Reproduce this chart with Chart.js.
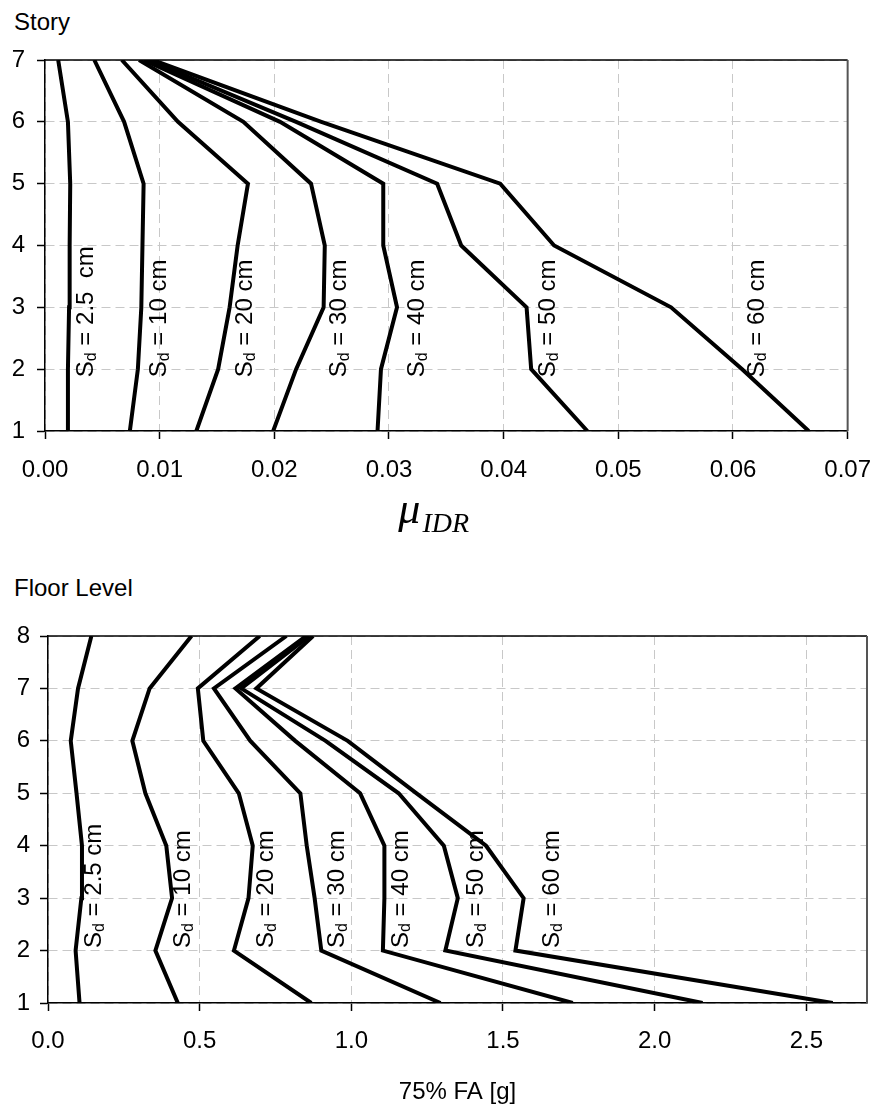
<!DOCTYPE html>
<html>
<head>
<meta charset="utf-8">
<script src="https://cdn.jsdelivr.net/npm/chart.js@4.4.1/dist/chart.umd.min.js"></script>
<style>
  body { margin: 0; background: #fff; width: 888px; height: 1110px; position: relative; overflow: hidden; font-family: 'Liberation Sans', Arial, sans-serif; }
  .ttl { position: absolute; left: 14px; font-size: 24px; line-height: 24px; color: #000; }
  canvas { position: absolute; left: 0; }
</style>
</head>
<body>
<div class="ttl" style="top:10px">Story</div>
<div class="ttl" style="top:576px">Floor Level</div>
<canvas id="idrChart" width="888" height="540" style="top:0"></canvas>
<canvas id="faChart" width="888" height="570" style="top:540px"></canvas>
<script>
// story / floor levels (y axis)
const stories = [1, 2, 3, 4, 5, 6, 7];
const floors = [1, 2, 3, 4, 5, 6, 7, 8];

// mean interstory drift ratio per story, one array per spectral displacement
const idr2_5 = [0.0020, 0.0020, 0.0021, 0.00215, 0.0022, 0.0020, 0.00115];
const idr10 = [0.0074, 0.0081, 0.0084, 0.0085, 0.0086, 0.0069, 0.0043];
const idr20 = [0.0132, 0.0151, 0.0161, 0.0168, 0.0177, 0.0116, 0.0067];
const idr30 = [0.0199, 0.0219, 0.0243, 0.0244, 0.0232, 0.0173, 0.0082];
const idr40 = [0.0290, 0.0293, 0.0307, 0.0295, 0.0295, 0.0205, 0.0086];
const idr50 = [0.0473, 0.0424, 0.0420, 0.0363, 0.0342, 0.0219, 0.0090];
const idr60 = [0.0666, 0.0608, 0.0546, 0.0444, 0.0397, 0.0241, 0.0094];

// 75% floor acceleration [g] per floor level
const fa2_5 = [0.104, 0.091, 0.110, 0.112, 0.094, 0.075, 0.099, 0.143];
const fa10 = [0.428, 0.354, 0.409, 0.390, 0.321, 0.278, 0.335, 0.473];
const fa20 = [0.868, 0.613, 0.661, 0.675, 0.629, 0.512, 0.494, 0.698];
const fa30 = [1.294, 0.901, 0.879, 0.853, 0.832, 0.667, 0.547, 0.786];
const fa40 = [1.730, 1.104, 1.109, 1.109, 1.029, 0.815, 0.618, 0.851];
const fa50 = [2.158, 1.310, 1.351, 1.305, 1.156, 0.915, 0.637, 0.862];
const fa60 = [2.587, 1.541, 1.568, 1.444, 1.215, 0.988, 0.687, 0.874];

// curve labels ("S" + subscript "d" + rest), anchored in data units
const idrLabelText = [' = 2.5  cm', ' = 10 cm', ' = 20 cm', ' = 30 cm', ' = 40 cm', ' = 50 cm', ' = 60 cm'];
const idrLabelX = [0.0036, 0.0100, 0.0175, 0.0257, 0.0325, 0.0439, 0.0621];
const idrLabelY = 1.87;
const faLabelText = [' = 2.5 cm', ' = 10 cm', ' = 20 cm', ' = 30 cm', ' = 40 cm', ' = 50 cm', ' = 60 cm'];
const faLabelX = [0.154, 0.447, 0.720, 0.955, 1.164, 1.412, 1.664];
const faLabelY = 2.05;

const FONT = "'Liberation Sans', Arial, sans-serif";
const SERIF = "'Liberation Serif', 'Times New Roman', serif";

function makeSets(series, levels) {
    return series.map(vals => ({
        data: vals.map((v, i) => ({ x: v, y: levels[i] })),
        borderColor: '#000',
        borderWidth: 4,
        pointRadius: 0,
        tension: 0,
        fill: false
    }));
}

function sdLabels(xs, yStart, rests) {
    return {
        id: 'sdLabels',
        afterDatasetsDraw(chart) {
            const ctx = chart.ctx;
            const sx = chart.scales.x, sy = chart.scales.y;
            ctx.save();
            ctx.fillStyle = '#000';
            ctx.textBaseline = 'middle';
            ctx.textAlign = 'left';
            xs.forEach((xv, i) => {
                ctx.save();
                ctx.translate(sx.getPixelForValue(xv), sy.getPixelForValue(yStart));
                ctx.rotate(-Math.PI / 2);
                ctx.font = '24px ' + FONT;
                ctx.fillText('S', 0, 0);
                let w = ctx.measureText('S').width;
                ctx.font = '16px ' + FONT;
                ctx.fillText('d', w, 5);
                w += ctx.measureText('d').width;
                ctx.font = '24px ' + FONT;
                ctx.fillText(rests[i], w, 0);
                ctx.restore();
            });
            ctx.restore();
        }
    };
}

// top and right edges of the plot area
const frame = {
    id: 'frame',
    beforeDatasetsDraw(chart) {
        const { left, right, top, bottom } = chart.chartArea;
        const ctx = chart.ctx;
        ctx.save();
        ctx.strokeStyle = '#000';
        ctx.lineWidth = 1.5;
        ctx.beginPath();
        ctx.moveTo(left, top);
        ctx.lineTo(right, top);
        ctx.stroke();
        ctx.strokeStyle = '#555';
        ctx.lineWidth = 2;
        ctx.beginPath();
        ctx.moveTo(right, top);
        ctx.lineTo(right, bottom);
        ctx.stroke();
        ctx.restore();
    }
};

// x axis title mu_IDR with subscript
const muTitle = {
    id: 'muTitle',
    afterDraw(chart) {
        const ctx = chart.ctx;
        const ca = chart.chartArea;
        const cx = (ca.left + ca.right) / 2;
        ctx.save();
        ctx.fillStyle = '#000';
        ctx.textBaseline = 'alphabetic';
        ctx.textAlign = 'left';
        ctx.font = 'italic 44px ' + SERIF;
        const x0 = cx - 48;
        ctx.fillText('\u03BC', x0, 523);
        const w = ctx.measureText('\u03BC').width;
        ctx.font = 'italic 28px ' + SERIF;
        ctx.fillText('IDR', x0 + w + 2, 532);
        ctx.restore();
    }
};

function axisStyle() {
    return {
        border: { display: true, color: '#000', width: 1.5, dash: [9, 5] },
        grid: {
            color: '#c8c8c8',
            lineWidth: 1,
            tickColor: '#000',
            tickLength: 8,
            tickWidth: 1.5,
            tickBorderDash: []
        }
    };
}

Chart.defaults.font.family = FONT;
Chart.defaults.color = '#000';

new Chart(document.getElementById('idrChart'), {
    type: 'line',
    data: { datasets: makeSets([idr2_5, idr10, idr20, idr30, idr40, idr50, idr60], stories) },
    options: {
        responsive: false,
        animation: false,
        devicePixelRatio: 1,
        layout: { padding: { top: 60, right: 29, left: 0, bottom: 0 } },
        plugins: { legend: { display: false }, tooltip: { enabled: false } },
        scales: {
            x: {
                type: 'linear', min: 0, max: 0.07,
                ...axisStyle(),
                ticks: { stepSize: 0.01, font: { size: 24 }, padding: 17, callback: v => v.toFixed(2) },
                afterFit: s => { s.height = 109; }
            },
            y: {
                type: 'linear', min: 1, max: 7,
                ...axisStyle(),
                ticks: { stepSize: 1, font: { size: 24 }, padding: 12 },
                afterFit: s => { s.width = 45; }
            }
        }
    },
    plugins: [frame, sdLabels(idrLabelX, idrLabelY, idrLabelText), muTitle]
});

new Chart(document.getElementById('faChart'), {
    type: 'line',
    data: { datasets: makeSets([fa2_5, fa10, fa20, fa30, fa40, fa50, fa60], floors) },
    options: {
        responsive: false,
        animation: false,
        devicePixelRatio: 1,
        layout: { padding: { top: 96, right: 21, left: 0, bottom: 0 } },
        plugins: { legend: { display: false }, tooltip: { enabled: false } },
        scales: {
            x: {
                type: 'linear', min: 0, max: 2.7,
                ...axisStyle(),
                ticks: { stepSize: 0.5, includeBounds: false, font: { size: 24 }, padding: 16, callback: v => v.toFixed(1) },
                title: { display: true, text: '75% FA [g]', font: { size: 24 }, padding: { top: 0, bottom: 3 } },
                afterFit: s => { s.height = 107; }
            },
            y: {
                type: 'linear', min: 1, max: 8,
                ...axisStyle(),
                ticks: { stepSize: 1, font: { size: 24 }, padding: 10 },
                afterFit: s => { s.width = 48; }
            }
        }
    },
    plugins: [frame, sdLabels(faLabelX, faLabelY, faLabelText)]
});
</script>
</body>
</html>
